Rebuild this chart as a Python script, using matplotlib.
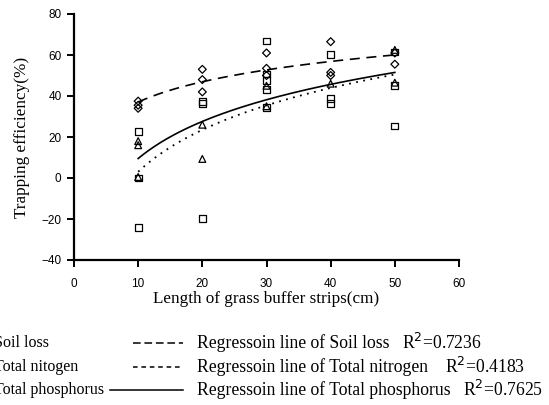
import numpy as np
import matplotlib
matplotlib.use("Agg")
import matplotlib.pyplot as plt
from matplotlib.lines import Line2D

# ---- data ----
soil_x = [10, 10, 10, 20, 20, 20, 30, 30, 30, 40, 40, 40, 50, 50]
soil_y = [37.5, 35.5, 34, 53, 48, 42, 61, 53.5, 50, 66.5, 51.5, 50, 61, 55.5]

nitro_x = [10, 10, 10, 20, 20, 20, 30, 30, 30, 30, 30, 40, 40, 40, 50, 50, 50]
nitro_y = [22.5, 0, -24, 37.5, 36.5, -19.7, 66.8, 50.7, 47.5, 43, 34.5, 60.3, 38.9, 36.4, 61.5, 45, 25.4]

phos_x = [10, 10, 10, 20, 20, 30, 30, 40, 50, 50]
phos_y = [18, 16, 0.5, 26, 9.3, 45, 35, 46, 62.5, 46.5]

# logarithmic regression coefficients: y = a*ln(x) + b
fit_a = {"soil": 14.3, "nitro": 29.5, "phos": 26.1}
fit_b = {"soil": 4.1, "nitro": -64.9, "phos": -50.6}

xticks = [0, 10, 20, 30, 40, 50, 60]
yticks = [-40, -20, 0, 20, 40, 60, 80]

left_labels = ["Soil loss", "Total nitogen", "Total phosphorus"]
right_labels = ["Regressoin line of Soil loss", "Regressoin line of Total nitrogen",
                "Regressoin line of Total phosphorus"]
r2_vals = ["0.7236", "0.4183", "0.7625"]

serif = ["Liberation Serif", "DejaVu Serif"]
sans = ["Liberation Sans", "DejaVu Sans"]

W, H = 549, 405
fig = plt.figure(figsize=(W / 100, H / 100), dpi=100)
ax = fig.add_axes([74 / W, 1 - 260 / H, (459 - 74) / W, (260 - 14) / H])

mk = dict(facecolor="none", edgecolors="black", linewidths=0.9, s=24, zorder=3)
ax.scatter(soil_x, soil_y, marker="D", **{**mk, "s": 16})
ax.scatter(nitro_x, nitro_y, marker="s", **mk)
ax.scatter(phos_x, phos_y, marker="^", **mk)

xf = np.linspace(10, 50, 200)
ax.plot(xf, fit_a["soil"] * np.log(xf) + fit_b["soil"], color="black", lw=1.2, ls=(0, (6, 4)))
ax.plot(xf, fit_a["nitro"] * np.log(xf) + fit_b["nitro"], color="black", lw=1.3, ls=(0, (1, 3)))
ax.plot(xf, fit_a["phos"] * np.log(xf) + fit_b["phos"], color="black", lw=1.2, ls="-")

ax.set_xlim(0, 60)
ax.set_ylim(-40, 80)
ax.set_xticks(xticks)
ax.set_yticks(yticks)
for s in ["top", "right"]:
    ax.spines[s].set_visible(False)
for s in ["left", "bottom"]:
    ax.spines[s].set_linewidth(1.6)
ax.tick_params(direction="out", length=5, width=1.4, labelsize=8.5)
ax.tick_params(axis="x", pad=8)
ax.tick_params(axis="y", pad=4)
for lab in ax.get_xticklabels() + ax.get_yticklabels():
    lab.set_family(sans)

ax.set_xlabel("Length of grass buffer strips(cm)", family=serif, fontsize=12.3, labelpad=1)
ax.set_ylabel("Trapping efficiency(%)", family=serif, fontsize=12.3, labelpad=8)

# ---- custom legend below the plot ----
rows_y = [343, 367, 390]
gaps = [12, 17, 12]
line_styles = [(0, (5, 2.5)), (0, (3, 2.5)), "-"]
line_x0 = [133, 133, 110]
fs_left = 11.5
fs = 12.7
renderer = fig.canvas.get_renderer()
for i in range(3):
    yf = 1 - rows_y[i] / H
    fig.text(-6 / W, yf, left_labels[i], family=serif, fontsize=fs_left, va="center", ha="left")
    fig.add_artist(Line2D([line_x0[i] / W, 183 / W], [yf, yf], color="black", lw=1.1,
                          ls=line_styles[i], transform=fig.transFigure))
    t = fig.text(197 / W, yf, right_labels[i], family=serif, fontsize=fs, va="center", ha="left")
    bb = t.get_window_extent(renderer=renderer)
    fig.text((bb.x1 + gaps[i]) / W, yf, r"R$^{2}$=" + r2_vals[i], family=serif, fontsize=fs,
             va="center", ha="left")

fig.savefig("out.png", dpi=100)
